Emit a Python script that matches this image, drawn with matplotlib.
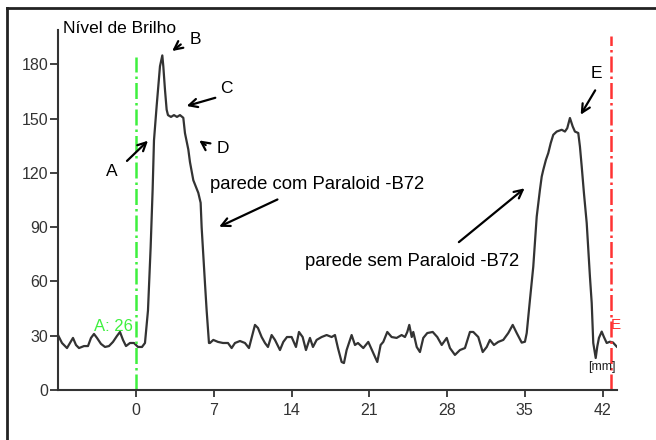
import matplotlib.pyplot as plt
from matplotlib.lines import Line2D

plt.rcParams['font.family'] = ['Liberation Sans', 'DejaVu Sans']

# perfil de brilho (mm, nivel)
pos_mm = [-7.02, -6.66, -6.21, -5.94, -5.67, -5.40, -5.13, -4.68, -4.32, -4.05,
          -3.78, -3.51, -3.15, -2.79, -2.43, -2.07, -1.71, -1.44, -1.17, -0.90,
          -0.54, -0.18, 0.18, 0.54, 0.81,
          1.08, 1.32, 1.50, 1.62, 1.86, 2.01, 2.16, 2.37, 2.46, 2.61, 2.76, 2.88,
          3.15, 3.42, 3.69, 3.96, 4.26, 4.41, 4.71, 4.86, 5.16, 5.61, 5.82, 5.91,
          6.06, 6.21, 6.36, 6.57,
          6.66, 6.96, 7.38, 7.83, 8.28, 8.61, 8.91, 9.36, 9.81, 10.17, 10.71, 10.98,
          11.31, 11.61, 11.88, 12.21, 12.51, 12.96, 13.26, 13.59, 14.01, 14.40,
          14.67, 15.00, 15.30, 15.66, 15.93, 16.26, 16.71, 17.16, 17.61, 17.91,
          18.18, 18.51, 18.72, 18.96, 19.41, 19.71, 19.98,
          20.46, 20.91, 21.36, 21.72, 22.02, 22.26, 22.62, 23.01, 23.46, 23.91,
          24.21, 24.42, 24.60, 24.82, 24.96, 25.27, 25.56, 25.86, 26.22, 26.71,
          27.12, 27.52, 27.97, 28.26, 28.71, 29.16, 29.61, 30.06, 30.36, 30.81,
          31.21, 31.57, 31.86, 32.22, 32.61, 33.06, 33.51, 33.91, 34.27, 34.72,
          35.01, 35.17, 35.31, 35.46, 35.76, 35.91, 36.07, 36.36, 36.52, 36.66,
          36.90, 37.11, 37.33, 37.56, 37.87, 38.32, 38.61, 38.82, 39.06, 39.31,
          39.51, 39.81, 39.96, 40.12, 40.32, 40.57, 40.71, 40.86, 41.02, 41.11,
          41.16, 41.38, 41.52, 41.67, 41.92, 42.12, 42.37, 42.66, 42.93, 43.27]
brilho = [30.4, 26.0, 23.2, 26.0, 28.8, 24.9, 23.2, 24.3, 24.3, 28.8,
          31.0, 28.8, 25.5, 23.8, 24.3, 26.6, 29.9, 32.1, 27.7, 24.3,
          26.0, 26.0, 23.8, 23.8, 26.0,
          44, 79, 111, 138, 157, 168, 179, 185, 179, 166, 155, 152,
          151, 152, 151, 152, 150.5, 142, 133, 126, 116, 109, 103.5, 90,
          74, 59, 44, 26,
          26.0, 27.7, 26.6, 26.0, 26.0, 23.2, 26.0, 27.1, 26.0, 23.2, 36.0, 34.3,
          29.3, 26.0, 23.8, 30.4, 27.7, 22.1, 26.6, 29.3, 29.3, 23.8,
          32.1, 29.3, 22.1, 28.8, 23.8, 27.7, 29.3, 30.4, 29.3, 30.4,
          23.2, 15.5, 14.9, 22.1, 30.4, 24.9, 26.0,
          23.2, 26.6, 20.5, 15.5, 24.9, 26.6, 32.1, 29.3, 28.8, 30.4,
          29.3, 32.1, 36.0, 29.3, 32.1, 23.8, 21.0, 28.8, 31.5, 32.1,
          29.3, 24.9, 28.8, 23.2, 19.4, 22.1, 23.2, 32.1, 32.1, 29.3,
          21.0, 23.8, 27.7, 24.9, 26.6, 27.7, 31.5, 36.0, 31.5, 26.2,
          26.7, 31.5, 40.6, 49.8, 68.2, 81.3, 95.9, 110.7, 118.0, 121.7,
          127.3, 131.0, 136.5, 141.1, 142.9, 143.9, 142.9, 144.8, 150.4, 145.7,
          142.9, 142.1, 134.6, 123.6, 108.9, 92.3, 77.5, 62.7, 48.1, 33.2,
          26.0, 17.7, 24.0, 28.8, 32.3, 29.3, 26.0, 26.7, 26.3, 24.0]

x_ticks = [0, 7, 14, 21, 28, 35, 42]
y_ticks = [0, 30, 60, 90, 120, 150, 180]

cursor_a = 0.0
cursor_e = 42.72

fig = plt.figure(figsize=(6.56, 4.4), dpi=100)
ax = fig.add_axes([0.0884, 0.1136, 0.8517, 0.818])

ax.plot(pos_mm, brilho, color='#333333', lw=1.6)

ax.plot([cursor_a, cursor_a], [0, 184], color='#3ef03e', lw=1.8, linestyle='-.')
ax.plot([cursor_e, cursor_e], [0, 196], color='#ff3333', lw=1.8, linestyle='-.')
ax.text(-0.3, 35, 'A: 26', color='#3ef03e', fontsize=12, ha='right', va='center')
ax.text(42.7, 36, 'E', color='#ff3333', fontsize=11, ha='left', va='center')
ax.text(41.9, 13, '[mm]', color='#222222', fontsize=9, ha='center', va='center')

ax.set_xlim(-7.02, 43.27)
ax.set_ylim(0, 199)
ax.set_xticks(x_ticks)
ax.set_yticks(y_ticks)
for s in ['top', 'right']:
    ax.spines[s].set_visible(False)
for s in ['left', 'bottom']:
    ax.spines[s].set_linewidth(1.5)
    ax.spines[s].set_color('#333333')
ax.tick_params(axis='y', length=6, width=1.3, pad=1, labelsize=11.5, colors='#333333')
ax.tick_params(axis='x', length=5, width=1.3, pad=4, labelsize=11.5, colors='#333333')

ax.text(-6.6, 200, 'Nível de Brilho', fontsize=12.5, ha='left', va='center', clip_on=False)

arrow = dict(arrowstyle='->', lw=1.6, color='black', mutation_scale=15)
fs = 12.5
ax.annotate('', xy=(3.06, 186.5), xytext=(4.23, 192), arrowprops=arrow)
ax.text(5.31, 193.7, 'B', fontsize=fs, ha='center', va='center')
ax.annotate('', xy=(4.32, 156.6), xytext=(7.38, 162), arrowprops=arrow)
ax.text(8.1, 166.6, 'C', fontsize=fs, ha='center', va='center')
ax.annotate('', xy=(1.26, 138.9), xytext=(-0.99, 125.6), arrowprops=arrow)
ax.text(-2.16, 120.6, 'A', fontsize=fs, ha='center', va='center')
ax.annotate('', xy=(5.49, 138.9), xytext=(6.48, 134.5), arrowprops=arrow)
ax.text(7.83, 133.4, 'D', fontsize=fs, ha='center', va='center')
ax.annotate('', xy=(39.9, 150.9), xytext=(41.46, 167), arrowprops=arrow)
ax.text(41.46, 175, 'E', fontsize=fs, ha='center', va='center')

ax.text(6.66, 113.4, 'parede com Paraloid -B72', fontsize=13.3, ha='left', va='center')
ax.annotate('', xy=(7.26, 89.6), xytext=(12.96, 106), arrowprops=arrow)
ax.text(15.2, 70.8, 'parede sem Paraloid -B72', fontsize=13.3, ha='left', va='center')
ax.annotate('', xy=(35.17, 112.5), xytext=(28.87, 80.8), arrowprops=arrow)

# moldura
fig.add_artist(Line2D([7 / 656, 1], [1 - 8 / 440, 1 - 8 / 440], color='#222222', lw=2))
fig.add_artist(Line2D([7 / 656, 7 / 656], [0, 1 - 8 / 440], color='#222222', lw=2))

fig.savefig('out.png', dpi=100)
